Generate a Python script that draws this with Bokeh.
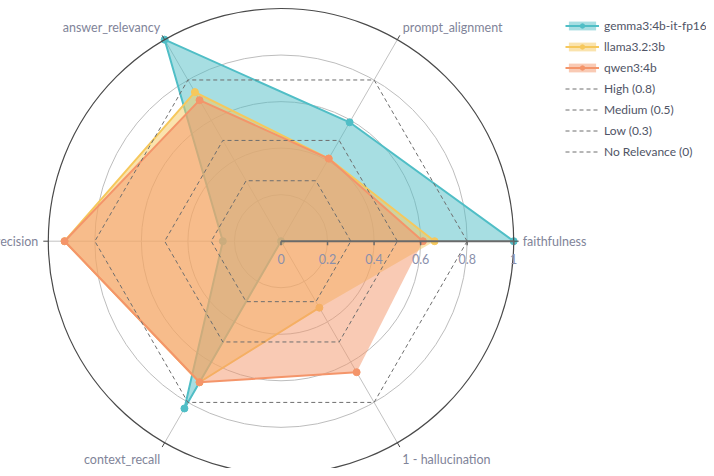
import numpy as np
from bokeh.plotting import figure
from bokeh.models import Range1d, Legend, LegendItem
from bokeh.core.properties import value
from bokeh.embed import file_html
from bokeh.resources import INLINE

# ---------------- data ----------------
categories = ["faithfulness", "prompt_alignment", "answer_relevancy",
              "context_precision", "context_recall", "1 - hallucination"]
gemma = [1.0, 0.59, 1.0, 0.25, 0.83, 0.0]
llama = [0.66, 0.41, 0.74, 0.93, 0.70, 0.33]
qwen = [0.61, 0.41, 0.70, 0.93, 0.70, 0.65]
series_names = ["gemma3:4b-it-fp16", "llama3.2:3b", "qwen3:4b"]
threshold_names = ["High (0.8)", "Medium (0.5)", "Low (0.3)", "No Relevance (0)"]
threshold_values = [0.8, 0.5, 0.3, 0.0]
radial_ticks = [0, 0.2, 0.4, 0.6, 0.8, 1.0]
radial_tick_labels = ["0", "0.2", "0.4", "0.6", "0.8", "1"]
grid_levels = [0.2, 0.4, 0.6, 0.8]

# ---------------- styles / layout ----------------
series_colors = ["#50bec6", "#f6c85c", "#f4956a"]
W, H = 706, 468
S = 232.7              # pixels per radial unit
CX, CY = 280.5, 240.7  # centre in canvas pixels (from left, from top)
FONT = value("Lato")
# per-category label placement: (x offset px, y offset px, align)
label_place = [(9, 0, "left"), (5.5, -12, "left"), (-4.5, -12, "right"),
               (-10, 0, "right"), (-4.5, 17, "right"), (5, 17, "left")]

p = figure(width=W, height=H,
           x_range=Range1d(-CX / S, (W - CX) / S),
           y_range=Range1d(-(H - CY) / S, CY / S),
           output_backend="svg", toolbar_location=None,
           x_axis_location=None, y_axis_location=None,
           min_border=0, outline_line_color=None)
p.grid.visible = False

n = len(categories)
theta = np.deg2rad(np.arange(n) * 360.0 / n)
cos, sin = np.cos(theta), np.sin(theta)

# grid circles (below traces)
p.circle(x=[0] * len(grid_levels), y=[0] * len(grid_levels), radius=grid_levels,
         fill_alpha=0, line_color="#bdbdbd", line_width=1)
# spokes
p.segment(x0=[0] * n, y0=[0] * n, x1=cos, y1=sin, line_color="#c2c2c2", line_width=1)

# model traces
legend_items = []
for name, vals, col in zip(series_names, [gemma, llama, qwen], series_colors):
    r = np.array(vals)
    xs, ys = r * cos, r * sin
    patch = p.patch(list(xs), list(ys), fill_color=col, fill_alpha=0.5, line_alpha=0)
    line = p.line(list(xs), list(ys), line_color=col, line_width=2)
    pts = p.scatter(list(xs), list(ys), size=7, fill_color=col, line_color=col)
    legend_items.append(LegendItem(label=name, renderers=[patch, line, pts]))

# threshold hexagons
for name, t in zip(threshold_names, threshold_values):
    hx = list(t * cos) + [t * cos[0]]
    hy = list(t * sin) + [t * sin[0]]
    hl = p.line(hx, hy, line_color="#6e6e6e", line_width=1, line_dash="4 3")
    legend_items.append(LegendItem(label=name, renderers=[hl]))

# angular axis (above traces)
p.circle(x=[0], y=[0], radius=[1.0], fill_alpha=0, line_color="#4a4a4a", line_width=1.2)
tl = 5 / S
p.segment(x0=cos, y0=sin, x1=(1 + tl) * cos, y1=(1 + tl) * sin,
          line_color="#4a4a4a", line_width=1)
for i, cat in enumerate(categories):
    dx, dy, al = label_place[i]
    p.text(x=[cos[i]], y=[sin[i]], text=[cat], x_offset=dx, y_offset=dy,
           text_align=al, text_baseline="middle", text_font=FONT,
           text_font_size="12.5px", text_color="#7f8499")

# radial axis
p.segment(x0=[0], y0=[0], x1=[1.0], y1=[0], line_color="#6a6a6a", line_width=2)
rt = np.array(radial_ticks)
p.segment(x0=rt, y0=np.zeros_like(rt), x1=rt, y1=np.zeros_like(rt) - 4 / S,
          line_color="#6a6a6a", line_width=1.5)
p.text(x=rt, y=np.zeros_like(rt), text=radial_tick_labels, y_offset=18,
       text_align="center", text_baseline="middle", text_font=FONT,
       text_font_size="12.5px", text_color="#8a8fab")

legend = Legend(items=legend_items, location=(565, 308), orientation="vertical",
                padding=0, margin=0, spacing=3, label_height=18,
                glyph_height=11, glyph_width=34, label_standoff=5,
                label_text_font="Lato", label_text_font_size="12px",
                label_text_color="#4f5466", border_line_alpha=0,
                background_fill_alpha=0)
p.add_layout(legend)

open("out.html", "w").write(file_html(p, INLINE))
